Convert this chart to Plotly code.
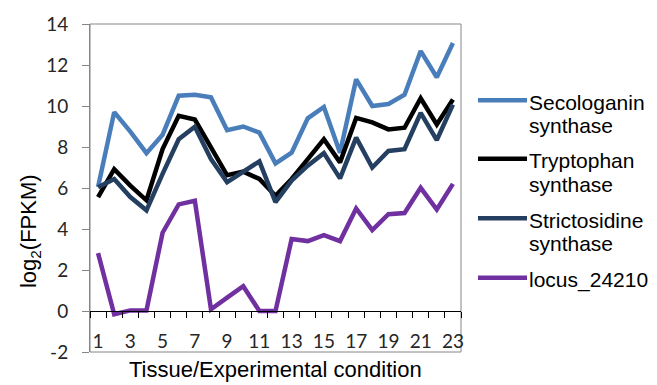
import plotly.graph_objects as go

# Expression of pathway genes across 23 tissues / experimental conditions
conditions = list(range(1, 24))

secologanin = [6.05, 9.7, 8.75, 7.7, 8.6, 10.5, 10.55, 10.42, 8.82, 9.0, 8.7, 7.2, 7.72,
               9.4, 9.95, 7.72, 11.3, 10.0, 10.1, 10.55, 12.68, 11.4, 13.07]
tryptophan = [5.56, 6.92, 6.12, 5.4, 7.9, 9.52, 9.34, 7.97, 6.62, 6.8, 6.44, 5.62, 6.44,
              7.41, 8.38, 7.25, 9.42, 9.2, 8.86, 8.94, 10.38, 9.1, 10.32]
strictosidine = [6.04, 6.44, 5.56, 4.91, 6.69, 8.38, 8.99, 7.41, 6.28, 6.76, 7.3, 5.31, 6.36,
                 7.09, 7.7, 6.47, 8.46, 7.0, 7.81, 7.89, 9.66, 8.34, 10.07]
locus_24210 = [2.82, -0.16, 0.03, 0.03, 3.82, 5.2, 5.38, 0.08, 0.65, 1.21, 0.0, 0.0, 3.51,
               3.41, 3.7, 3.41, 5.0, 3.95, 4.72, 4.78, 6.01, 4.95, 6.2]

series_names = ["Secologanin synthase", "Tryptophan synthase",
                "Strictosidine synthase", "locus_24210"]
legend_lines = [["Secologanin", "synthase"], ["Tryptophan", "synthase"],
                ["Strictosidine", "synthase"], ["locus_24210"]]
series_values = [secologanin, tryptophan, strictosidine, locus_24210]
series_colors = ["#4A7EBB", "#000000", "#243F60", "#7030A0"]

x_tick_vals = list(range(1, 24, 2))
x_tick_text = [str(v) for v in x_tick_vals]
y_tick_vals = list(range(-2, 15, 2))
y_tick_text = [str(v) for v in y_tick_vals]

W, H = 657, 385
L, R, T, B = 90, 196, 21, 33
PW, PH = W - L - R, H - T - B


def px_x(px):
    return (px - L) / PW


def px_y(py):
    return (H - B - py) / PH


fig = go.Figure()
for name, vals, col in zip(series_names, series_values, series_colors):
    fig.add_trace(go.Scatter(
        x=conditions, y=vals, name=name, mode="lines",
        line=dict(color=col, width=4.5), showlegend=False,
    ))

tick_font = dict(family="Lato, Carlito, sans-serif", size=19, color="#262626")
text_font = dict(family="Liberation Sans, Arial, sans-serif", size=22, color="#000000")
legend_font = dict(family="Liberation Sans, Arial, sans-serif", size=21, color="#000000")

ymin, ymax = -2, 14
zero_pos = (0 - ymin) / (ymax - ymin)

fig.update_layout(
    width=W, height=H,
    margin=dict(l=L, r=R, t=T, b=B),
    paper_bgcolor="white", plot_bgcolor="white",
    showlegend=False,
    xaxis=dict(
        range=[0.5, 23.5], anchor="free", position=zero_pos,
        showgrid=False, zeroline=False,
        showline=True, linecolor="#000000", linewidth=1,
        tickmode="array", tickvals=x_tick_vals, ticktext=x_tick_text,
        ticks="outside", ticklen=13, tickcolor="rgba(0,0,0,0)",
        tickfont=tick_font,
        minor=dict(tick0=0.5, dtick=1, ticks="outside", ticklen=6,
                   tickcolor="#000000", tickwidth=1),
    ),
    yaxis=dict(
        range=[ymin, ymax], showgrid=False, zeroline=False,
        showline=True, linecolor="#868686", linewidth=1,
        tickmode="array", tickvals=y_tick_vals, ticktext=y_tick_text,
        ticks="outside", ticklen=7, tickcolor="#868686",
        tickfont=tick_font, ticklabelstandoff=10,
    ),
)

# plot-area frame
fig.add_shape(type="rect", xref="paper", yref="paper", x0=0, y0=0, x1=1, y1=1,
              line=dict(color="#868686", width=1), layer="below")

# axis titles
fig.add_annotation(text="Tissue/Experimental condition", xref="paper", yref="paper",
                   x=px_x(275), y=px_y(370), xanchor="center", yanchor="middle",
                   showarrow=False, font=text_font)
fig.add_annotation(text="log<sub>2</sub>(FPKM)", xref="paper", yref="paper",
                   x=px_x(30), y=px_y(230), xanchor="center", yanchor="middle",
                   textangle=-90, showarrow=False, font=text_font)

# legend: key lines and labels
key_y = [98, 157, 217, 277]
line_pitch = 23.5
for lines, col, ky in zip(legend_lines, series_colors, key_y):
    fig.add_shape(type="line", xref="paper", yref="paper",
                  x0=px_x(478), x1=px_x(527), y0=px_y(ky), y1=px_y(ky),
                  line=dict(color=col, width=4.5))
    for i, txt in enumerate(lines):
        fig.add_annotation(text=txt, xref="paper", yref="paper",
                           x=px_x(527), y=px_y(ky + 2 + i * line_pitch),
                           xanchor="left", yanchor="middle",
                           showarrow=False, font=legend_font)

fig.write_html("out.html")
